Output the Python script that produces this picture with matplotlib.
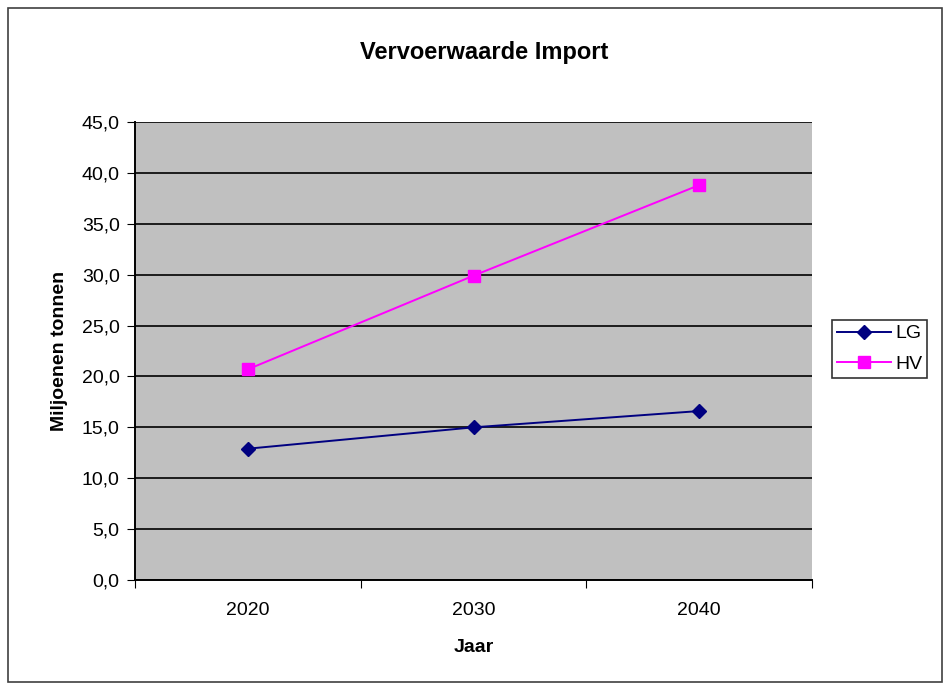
import matplotlib.pyplot as plt
from matplotlib.patches import Rectangle
from matplotlib.ticker import FuncFormatter, FixedLocator

plt.rcParams['font.family'] = ['Liberation Sans', 'DejaVu Sans']

# -------- data --------
years = ["2020", "2030", "2040"]
lg = [12.9, 15.0, 16.6]
hv = [20.7, 29.9, 38.8]

fig = plt.figure(figsize=(9.49, 6.88), dpi=100)

# outer chart border
fig.patches.append(Rectangle((8 / 949, 1 - 682 / 688), 934 / 949, 674 / 688,
                             transform=fig.transFigure, fill=False,
                             edgecolor="#404040", linewidth=1.2))

ax = fig.add_axes([135 / 949, 1 - 580 / 688, 677 / 949, 458 / 688])
ax.set_facecolor("#C0C0C0")

x = list(range(len(years)))
ax.plot(x, lg, color="#000080", marker="D", markersize=7, linewidth=1.4, label="LG")
ax.plot(x, hv, color="#FF00FF", marker="s", markersize=9, linewidth=1.4, label="HV")

ax.set_xlim(-0.5, len(years) - 0.5)
ax.set_ylim(0, 45)
ax.set_yticks(range(0, 46, 5))
ax.yaxis.set_major_formatter(FuncFormatter(lambda v, p: f"{v:.1f}".replace(".", ",")))
ax.grid(axis="y", color="black", linewidth=1.2)
ax.set_axisbelow(True)

# category axis: ticks between categories, labels centred
ax.xaxis.set_major_locator(FixedLocator([-0.5, 0.5, 1.5, 2.5]))
ax.xaxis.set_minor_locator(FixedLocator(x))
ax.set_xticklabels([], minor=False)
ax.set_xticklabels(years, minor=True)
ax.tick_params(axis="x", which="major", direction="out", length=6, color="black")
ax.tick_params(axis="x", which="minor", length=0, pad=16, labelsize=14)
ax.tick_params(axis="y", direction="out", length=6, labelsize=14, pad=5)

for s in ["top", "right"]:
    ax.spines[s].set_visible(False)
for s in ["left", "bottom"]:
    ax.spines[s].set_color("black")
    ax.spines[s].set_linewidth(1.4)

ax.set_xlabel("Jaar", fontsize=14, fontweight="bold", labelpad=14)
ax.set_ylabel("Miljoenen tonnen", fontsize=14, fontweight="bold", labelpad=10)
fig.text(484 / 949, 1 - 52 / 688, "Vervoerwaarde Import", ha="center", va="center",
         fontsize=17, fontweight="bold")

leg = fig.legend(loc="upper left", bbox_to_anchor=(832 / 949, 1 - 320 / 688),
                 frameon=True, fancybox=False, fontsize=14, handlelength=2.8,
                 borderpad=0.25, labelspacing=0.65, handletextpad=0.2,
                 borderaxespad=0)
leg.get_frame().set_edgecolor("black")
leg.get_frame().set_linewidth(1.2)

fig.savefig("out.png", dpi=100)
